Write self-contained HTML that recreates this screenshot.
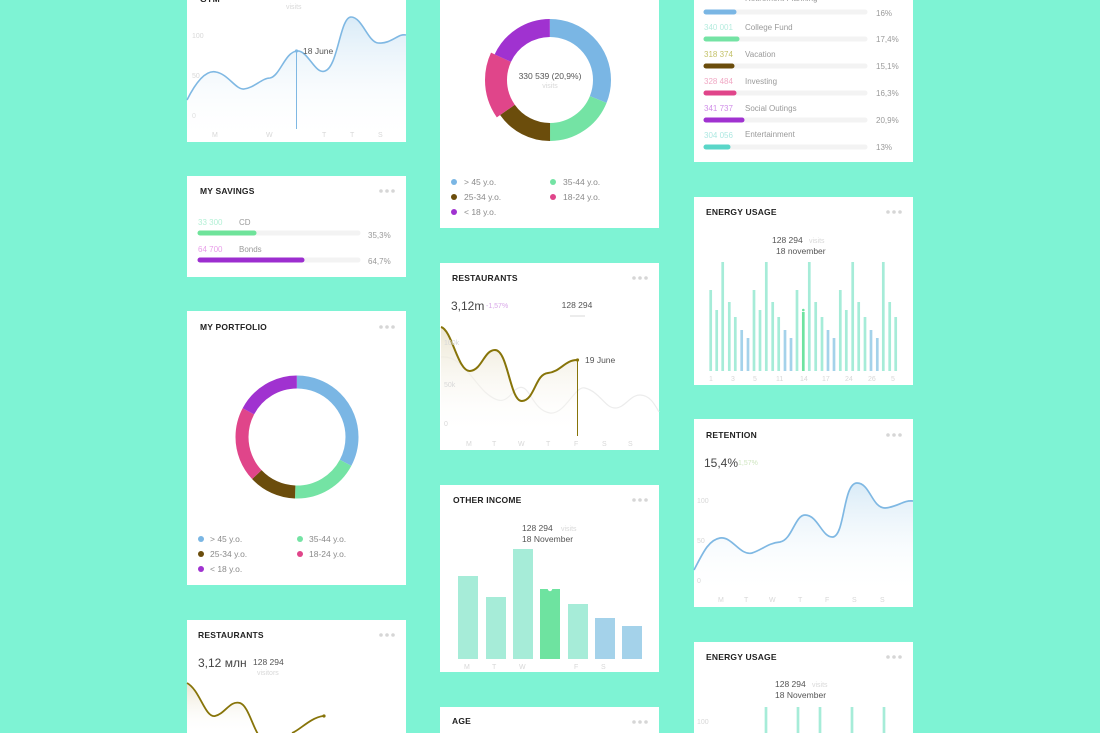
<!DOCTYPE html>
<html><head><meta charset="utf-8"><style>
html,body{margin:0;padding:0;background:#7ef3d4;}
svg{display:block;font-family:"Liberation Sans",sans-serif;}
.t{font-size:8.5px;font-weight:bold;fill:#222;letter-spacing:.2px}
.g{fill:#9a9a9a;font-size:8px}
.f{fill:#d8d8d8;font-size:7px}
.d{fill:#555;font-size:8.5px}
</style></head><body>
<svg width="1100" height="733" viewBox="0 0 1100 733">
<defs>
<linearGradient id="bl" x1="0" y1="0" x2="0" y2="1"><stop offset="0" stop-color="#d9ebf7"/><stop offset="1" stop-color="#fff" stop-opacity="0"/></linearGradient>
<linearGradient id="ol" x1="0" y1="0" x2="0" y2="1"><stop offset="0" stop-color="#ece6d2"/><stop offset="1" stop-color="#fff" stop-opacity="0"/></linearGradient>
</defs>
<rect width="1100" height="733" fill="#7ef3d4"/>
<!-- cards -->
<g fill="#fff">
<rect x="187" y="-5" width="219" height="147"/>
<rect x="187" y="176" width="219" height="101"/>
<rect x="187" y="311" width="219" height="274"/>
<rect x="187" y="620" width="219" height="120"/>
<rect x="440" y="-5" width="219" height="233"/>
<rect x="440" y="263" width="219" height="187"/>
<rect x="440" y="485" width="219" height="187"/>
<rect x="440" y="707" width="219" height="40"/>
<rect x="694" y="-5" width="219" height="167"/>
<rect x="694" y="197" width="219" height="188"/>
<rect x="694" y="419" width="219" height="188"/>
<rect x="694" y="642" width="219" height="100"/>
</g>
<!-- dots menus -->
<g fill="#d6d6d6">
<circle cx="381" cy="191" r="1.8"/><circle cx="387" cy="191" r="1.8"/><circle cx="393" cy="191" r="1.8"/>
<circle cx="381" cy="327" r="1.8"/><circle cx="387" cy="327" r="1.8"/><circle cx="393" cy="327" r="1.8"/>
<circle cx="381" cy="635" r="1.8"/><circle cx="387" cy="635" r="1.8"/><circle cx="393" cy="635" r="1.8"/>
<circle cx="634" cy="278" r="1.8"/><circle cx="640" cy="278" r="1.8"/><circle cx="646" cy="278" r="1.8"/>
<circle cx="634" cy="500" r="1.8"/><circle cx="640" cy="500" r="1.8"/><circle cx="646" cy="500" r="1.8"/>
<circle cx="634" cy="722" r="1.8"/><circle cx="640" cy="722" r="1.8"/><circle cx="646" cy="722" r="1.8"/>
<circle cx="888" cy="212" r="1.8"/><circle cx="894" cy="212" r="1.8"/><circle cx="900" cy="212" r="1.8"/>
<circle cx="888" cy="435" r="1.8"/><circle cx="894" cy="435" r="1.8"/><circle cx="900" cy="435" r="1.8"/>
<circle cx="888" cy="657" r="1.8"/><circle cx="894" cy="657" r="1.8"/><circle cx="900" cy="657" r="1.8"/>
</g>

<!-- Card A top line chart -->
<text x="200" y="2" class="t">GYM</text>
<text x="286" y="9" class="f">visits</text>
<text x="192" y="38" class="f">100</text><text x="192" y="78" class="f">50</text><text x="192" y="118" class="f">0</text>
<path d="M187,100 C197,80 207,70 216,72 C228,74 236,90 244,89 C254,88 262,78 270,78 C280,76 285,52 297,51 C308,50 315,75 325,71 C338,67 340,17 351,17 C362,17 368,42 378,43 C392,44 398,33 406,35 L406,142 L187,142Z" fill="url(#bl)"/>
<path d="M187,100 C197,80 207,70 216,72 C228,74 236,90 244,89 C254,88 262,78 270,78 C280,76 285,52 297,51 C308,50 315,75 325,71 C338,67 340,17 351,17 C362,17 368,42 378,43 C392,44 398,33 406,35" fill="none" stroke="#7fb8e3" stroke-width="1.6"/>
<line x1="296.5" y1="51" x2="296.5" y2="129" stroke="#7fb8e3" stroke-width="1"/>
<circle cx="296.5" cy="51" r="1.6" fill="#7fb8e3"/>
<text x="303" y="54" class="d">18 June</text>
<g class="f"><text x="212" y="137">M</text><text x="266" y="137">W</text><text x="322" y="137">T</text><text x="350" y="137">T</text><text x="378" y="137">S</text></g>

<!-- My savings -->
<text x="200" y="194" class="t">MY SAVINGS</text>
<text x="198" y="225" font-size="8" fill="#b4f0d6">33 300</text><text x="239" y="225" class="g">CD</text>
<line x1="200" y1="233" x2="358" y2="233" stroke="#f3f3f3" stroke-width="5" stroke-linecap="round"/>
<line x1="200" y1="233" x2="254" y2="233" stroke="#6fe39a" stroke-width="5" stroke-linecap="round"/>
<text x="368" y="238" class="g">35,3%</text>
<text x="198" y="252" font-size="8" fill="#e89ee9">64 700</text><text x="239" y="252" class="g">Bonds</text>
<line x1="200" y1="260" x2="358" y2="260" stroke="#f3f3f3" stroke-width="5" stroke-linecap="round"/>
<line x1="200" y1="260" x2="302" y2="260" stroke="#9c2ecf" stroke-width="5" stroke-linecap="round"/>
<text x="368" y="264" class="g">64,7%</text>

<!-- My portfolio -->
<text x="200" y="330" class="t">MY PORTFOLIO</text>
<g fill="none" stroke-width="13" transform="rotate(0 297 437)">
<circle cx="297" cy="437" r="55" pathLength="360" stroke="#7ab6e4" stroke-dasharray="118 242" stroke-dashoffset="90"/>
<circle cx="297" cy="437" r="55" pathLength="360" stroke="#74e3a4" stroke-dasharray="64 296" stroke-dashoffset="-28"/>
<circle cx="297" cy="437" r="55" pathLength="360" stroke="#6b4d0c" stroke-dasharray="45 315" stroke-dashoffset="-92"/>
<circle cx="297" cy="437" r="55" pathLength="360" stroke="#e0458a" stroke-dasharray="71 289" stroke-dashoffset="-137"/>
<circle cx="297" cy="437" r="55" pathLength="360" stroke="#a032d0" stroke-dasharray="62 298" stroke-dashoffset="-208"/>
</g>
<g font-size="8.5" fill="#8a8a8a">
<circle cx="201" cy="539" r="3" fill="#7ab6e4"/><text x="210" y="542">&gt; 45 y.o.</text>
<circle cx="300" cy="539" r="3" fill="#74e3a4"/><text x="309" y="542">35-44 y.o.</text>
<circle cx="201" cy="554" r="3" fill="#6b4d0c"/><text x="210" y="557">25-34 y.o.</text>
<circle cx="300" cy="554" r="3" fill="#e0458a"/><text x="309" y="557">18-24 y.o.</text>
<circle cx="201" cy="569" r="3" fill="#a032d0"/><text x="210" y="572">&lt; 18 y.o.</text>
</g>

<!-- Restaurants col1 -->
<text x="198" y="638" class="t">RESTAURANTS</text>
<text x="198" y="667" font-size="12" fill="#444">3,12 млн</text>
<text x="253" y="665" class="d">128 294</text><text x="257" y="675" class="f">visitors</text>
<path d="M187,683 C200,690 205,718 215,716 C225,714 230,700 240,703 C250,706 252,733 262,733 L187,733Z" fill="url(#ol)"/>
<path d="M187,683 C200,690 205,718 215,716 C225,714 230,700 240,703 C250,706 255,740 265,740 M292,733 C300,730 310,718 323,716" fill="none" stroke="#877409" stroke-width="1.8"/>
<circle cx="324" cy="716" r="1.6" fill="#877409"/>

<!-- Donut col2 -->
<g fill="none" stroke-width="18">
<circle cx="550" cy="80" r="52" pathLength="360" stroke="#7ab6e4" stroke-dasharray="112 248" stroke-dashoffset="90"/>
<circle cx="550" cy="80" r="52" pathLength="360" stroke="#74e3a4" stroke-dasharray="68 292" stroke-dashoffset="-22"/>
<circle cx="550" cy="80" r="52" pathLength="360" stroke="#6b4d0c" stroke-dasharray="55 305" stroke-dashoffset="-90"/>
<circle cx="550" cy="80" r="54" pathLength="360" stroke="#e0458a" stroke-width="22" stroke-dasharray="60 300" stroke-dashoffset="-145"/>
<circle cx="550" cy="80" r="52" pathLength="360" stroke="#a032d0" stroke-dasharray="65 295" stroke-dashoffset="-205"/>
</g>
<text x="550" y="79" text-anchor="middle" font-size="8.5" fill="#555">330 539 (20,9%)</text>
<text x="550" y="88" text-anchor="middle" class="f">visits</text>
<g font-size="8.5" fill="#8a8a8a">
<circle cx="454" cy="182" r="3" fill="#7ab6e4"/><text x="464" y="185">&gt; 45 y.o.</text>
<circle cx="553" cy="182" r="3" fill="#74e3a4"/><text x="563" y="185">35-44 y.o.</text>
<circle cx="454" cy="197" r="3" fill="#6b4d0c"/><text x="464" y="200">25-34 y.o.</text>
<circle cx="553" cy="197" r="3" fill="#e0458a"/><text x="563" y="200">18-24 y.o.</text>
<circle cx="454" cy="212" r="3" fill="#a032d0"/><text x="464" y="215">&lt; 18 y.o.</text>
</g>

<!-- Restaurants col2 -->
<text x="452" y="281" class="t">RESTAURANTS</text>
<text x="451" y="310" font-size="12" fill="#444">3,12m</text>
<text x="486" y="308" font-size="7" fill="#d8a8e8">-1,57%</text>
<text x="577" y="308" text-anchor="middle" class="d">128 294</text>
<line x1="570" y1="316" x2="585" y2="316" stroke="#e6e6e6" stroke-width="1.5"/>
<path d="M441,357 C460,355 470,377 485,392 C500,405 505,402 515,390 C530,378 530,410 550,413 C565,415 575,385 585,388 C600,392 605,408 615,408 C625,408 630,395 640,395 C650,395 655,405 659,412" fill="none" stroke="#ececec" stroke-width="1.2"/>
<path d="M441,327 C452,330 458,372 470,371 C482,370 484,350 495,350 C508,350 510,402 522,401 C535,400 535,374 548,373 C560,372 565,360 577,360 L577,436 L441,436Z" fill="url(#ol)"/>
<path d="M441,327 C452,330 458,372 470,371 C482,370 484,350 495,350 C508,350 510,402 522,401 C535,400 535,374 548,373 C560,372 565,360 577,360" fill="none" stroke="#877409" stroke-width="2"/>
<line x1="577.5" y1="360" x2="577.5" y2="436" stroke="#877409" stroke-width="1"/>
<circle cx="577.5" cy="360" r="1.6" fill="#877409"/>
<text x="585" y="363" class="d">19 June</text>
<g class="f"><text x="444" y="345">100k</text><text x="444" y="387">50k</text><text x="444" y="426">0</text>
<text x="466" y="446">M</text><text x="492" y="446">T</text><text x="518" y="446">W</text><text x="546" y="446">T</text><text x="574" y="446">F</text><text x="602" y="446">S</text><text x="628" y="446">S</text></g>

<!-- Other income -->
<text x="453" y="503" class="t">OTHER INCOME</text>
<text x="522" y="531" class="d">128 294</text><text x="561" y="531" class="f">visits</text>
<text x="522" y="542" class="d">18 November</text>
<g>
<rect x="458" y="576" width="20" height="83" fill="#a6ecd8"/>
<rect x="486" y="597" width="20" height="62" fill="#a6ecd8"/>
<rect x="513" y="549" width="20" height="110" fill="#a6ecd8"/>
<rect x="540" y="589" width="20" height="70" fill="#6ee3a0"/>
<rect x="568" y="604" width="20" height="55" fill="#a6ecd8"/>
<rect x="595" y="618" width="20" height="41" fill="#a4d2ea"/>
<rect x="622" y="626" width="20" height="33" fill="#a4d2ea"/>
<circle cx="550" cy="589" r="2.2" fill="#fff"/>
</g>
<g class="f"><text x="464" y="669">M</text><text x="492" y="669">T</text><text x="519" y="669">W</text><text x="574" y="669">F</text><text x="601" y="669">S</text></g>

<!-- Age -->
<text x="452" y="724" class="t">AGE</text>

<!-- List card col3 -->
<g font-size="8" fill="#9a9a9a">
<text x="745" y="1">Retirement Planning</text>
<line x1="706" y1="12" x2="865" y2="12" stroke="#f3f3f3" stroke-width="5" stroke-linecap="round"/>
<line x1="706" y1="12" x2="734" y2="12" stroke="#7ab6e4" stroke-width="5" stroke-linecap="round"/>
<text x="876" y="16">16%</text>
<text x="704" y="30" fill="#b6ecdf">340 001</text><text x="745" y="30">College Fund</text>
<line x1="706" y1="39" x2="865" y2="39" stroke="#f3f3f3" stroke-width="5" stroke-linecap="round"/>
<line x1="706" y1="39" x2="737" y2="39" stroke="#74e3a4" stroke-width="5" stroke-linecap="round"/>
<text x="876" y="42">17,4%</text>
<text x="704" y="57" fill="#c4c26a">318 374</text><text x="745" y="57">Vacation</text>
<line x1="706" y1="66" x2="865" y2="66" stroke="#f3f3f3" stroke-width="5" stroke-linecap="round"/>
<line x1="706" y1="66" x2="732" y2="66" stroke="#6b4d0c" stroke-width="5" stroke-linecap="round"/>
<text x="876" y="69">15,1%</text>
<text x="704" y="84" fill="#f0a8c4">328 484</text><text x="745" y="84">Investing</text>
<line x1="706" y1="93" x2="865" y2="93" stroke="#f3f3f3" stroke-width="5" stroke-linecap="round"/>
<line x1="706" y1="93" x2="734" y2="93" stroke="#e0458a" stroke-width="5" stroke-linecap="round"/>
<text x="876" y="96">16,3%</text>
<text x="704" y="111" fill="#d08ee8">341 737</text><text x="745" y="111">Social Outings</text>
<line x1="706" y1="120" x2="865" y2="120" stroke="#f3f3f3" stroke-width="5" stroke-linecap="round"/>
<line x1="706" y1="120" x2="742" y2="120" stroke="#a032d0" stroke-width="5" stroke-linecap="round"/>
<text x="876" y="123">20,9%</text>
<text x="704" y="138" fill="#aee8e2">304 056</text><text x="745" y="137">Entertainment</text>
<line x1="706" y1="147" x2="865" y2="147" stroke="#f3f3f3" stroke-width="5" stroke-linecap="round"/>
<line x1="706" y1="147" x2="728" y2="147" stroke="#5ad6c8" stroke-width="5" stroke-linecap="round"/>
<text x="876" y="150">13%</text>
</g>

<!-- Energy usage -->
<text x="706" y="215" class="t">ENERGY USAGE</text>
<text x="772" y="243" class="d">128 294</text><text x="809" y="243" class="f">visits</text>
<text x="776" y="254" class="d">18 november</text>
<g id="eb"></g>
<g stroke-width="2.7">
<line x1="710.7" y1="290" x2="710.7" y2="371" stroke="#a6ecd8"/>
<line x1="716.7" y1="310" x2="716.7" y2="371" stroke="#a6ecd8"/>
<line x1="722.7" y1="262" x2="722.7" y2="371" stroke="#a6ecd8"/>
<line x1="729.3" y1="302" x2="729.3" y2="371" stroke="#a6ecd8"/>
<line x1="735.3" y1="317" x2="735.3" y2="371" stroke="#a6ecd8"/>
<line x1="741.7" y1="330" x2="741.7" y2="371" stroke="#a4d2ea"/>
<line x1="748" y1="338" x2="748" y2="371" stroke="#a4d2ea"/>
<line x1="754" y1="290" x2="754" y2="371" stroke="#a6ecd8"/>
<line x1="760" y1="310" x2="760" y2="371" stroke="#a6ecd8"/>
<line x1="766.3" y1="262" x2="766.3" y2="371" stroke="#a6ecd8"/>
<line x1="772.7" y1="302" x2="772.7" y2="371" stroke="#a6ecd8"/>
<line x1="778.7" y1="317" x2="778.7" y2="371" stroke="#a6ecd8"/>
<line x1="785" y1="330" x2="785" y2="371" stroke="#a4d2ea"/>
<line x1="791" y1="338" x2="791" y2="371" stroke="#a4d2ea"/>
<line x1="797" y1="290" x2="797" y2="371" stroke="#a6ecd8"/>
<line x1="803.3" y1="312" x2="803.3" y2="371" stroke="#6ee3a0"/>
<line x1="809.3" y1="262" x2="809.3" y2="371" stroke="#a6ecd8"/>
<line x1="815.7" y1="302" x2="815.7" y2="371" stroke="#a6ecd8"/>
<line x1="822" y1="317" x2="822" y2="371" stroke="#a6ecd8"/>
<line x1="828" y1="330" x2="828" y2="371" stroke="#a4d2ea"/>
<line x1="834" y1="338" x2="834" y2="371" stroke="#a4d2ea"/>
<line x1="840.3" y1="290" x2="840.3" y2="371" stroke="#a6ecd8"/>
<line x1="846.3" y1="310" x2="846.3" y2="371" stroke="#a6ecd8"/>
<line x1="852.7" y1="262" x2="852.7" y2="371" stroke="#a6ecd8"/>
<line x1="858.7" y1="302" x2="858.7" y2="371" stroke="#a6ecd8"/>
<line x1="865" y1="317" x2="865" y2="371" stroke="#a6ecd8"/>
<line x1="871" y1="330" x2="871" y2="371" stroke="#a4d2ea"/>
<line x1="877.3" y1="338" x2="877.3" y2="371" stroke="#a4d2ea"/>
<line x1="883.3" y1="262" x2="883.3" y2="371" stroke="#a6ecd8"/>
<line x1="889.7" y1="302" x2="889.7" y2="371" stroke="#a6ecd8"/>
<line x1="895.7" y1="317" x2="895.7" y2="371" stroke="#a6ecd8"/>
</g>
<circle cx="803.3" cy="310" r="1.3" fill="#6ee3a0"/>
<g class="f"><text x="709" y="381">1</text><text x="731" y="381">3</text><text x="753" y="381">5</text><text x="776" y="381">11</text><text x="800" y="381">14</text><text x="822" y="381">17</text><text x="845" y="381">24</text><text x="868" y="381">26</text><text x="891" y="381">5</text></g>

<!-- Retention -->
<text x="706" y="438" class="t">RETENTION</text>
<text x="704" y="467" font-size="12" fill="#444">15,4%</text>
<text x="738" y="465" font-size="7" fill="#cfe6c0">1,57%</text>
<path d="M694,570 C702,555 708,540 720,538 C732,536 740,556 752,553 C762,550 768,543 780,542 C792,540 795,515 805,515 C818,515 822,538 833,537 C845,535 843,483 857,483 C870,483 872,508 885,508 C898,507 903,500 913,501 L913,595 L694,595Z" fill="url(#bl)"/>
<path d="M694,570 C702,555 708,540 720,538 C732,536 740,556 752,553 C762,550 768,543 780,542 C792,540 795,515 805,515 C818,515 822,538 833,537 C845,535 843,483 857,483 C870,483 872,508 885,508 C898,507 903,500 913,501" fill="none" stroke="#7fb8e3" stroke-width="1.7"/>
<g class="f"><text x="697" y="503">100</text><text x="697" y="543">50</text><text x="697" y="583">0</text>
<text x="718" y="602">M</text><text x="744" y="602">T</text><text x="769" y="602">W</text><text x="798" y="602">T</text><text x="825" y="602">F</text><text x="852" y="602">S</text><text x="880" y="602">S</text></g>

<!-- Energy usage 2 -->
<text x="706" y="660" class="t">ENERGY USAGE</text>
<text x="775" y="687" class="d">128 294</text><text x="812" y="687" class="f">visits</text>
<text x="775" y="698" class="d">18 November</text>
<text x="697" y="724" class="f">100</text>
<g stroke="#a6ecd8" stroke-width="2.7">
<line x1="766" y1="707" x2="766" y2="733"/><line x1="798" y1="707" x2="798" y2="733"/>
<line x1="820" y1="707" x2="820" y2="733"/><line x1="852" y1="707" x2="852" y2="733"/>
<line x1="884" y1="707" x2="884" y2="733"/>
</g>
</svg>
</body></html>
